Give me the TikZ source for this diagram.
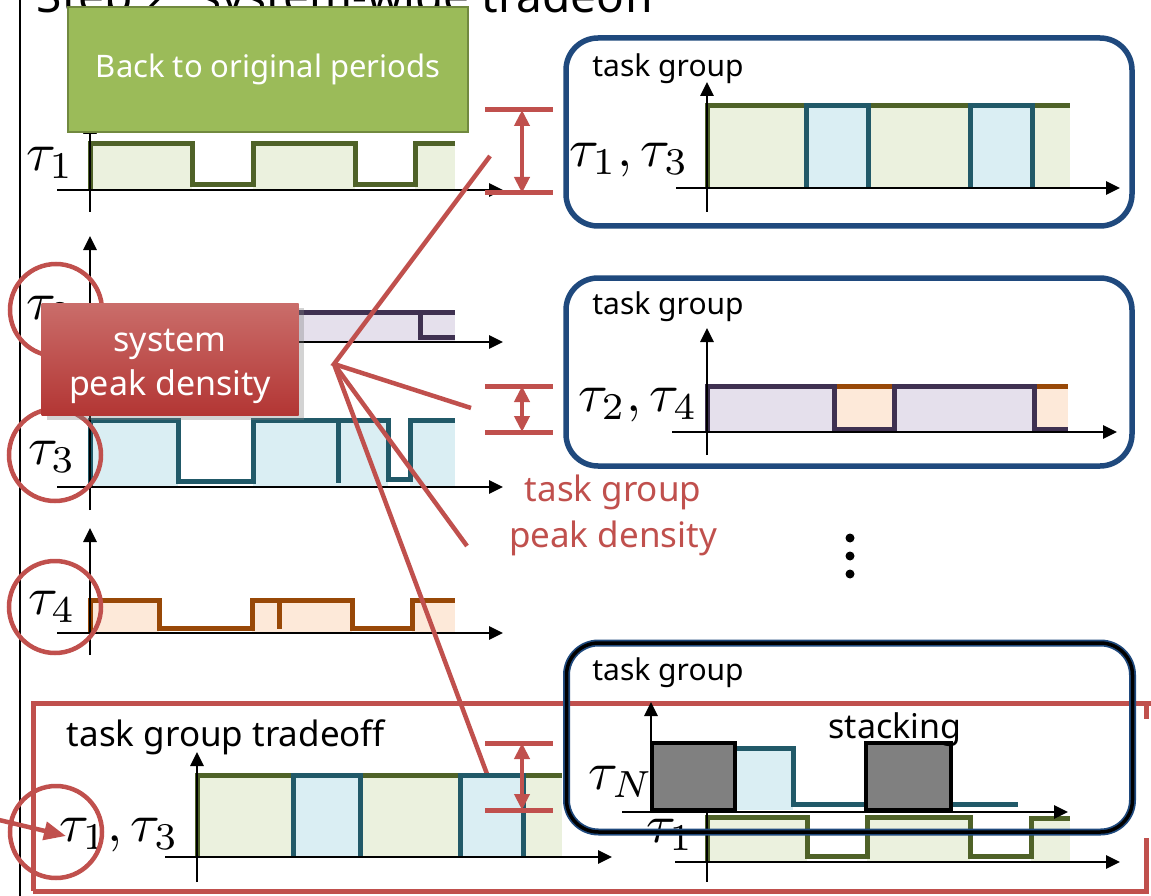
\documentclass[tikz,border=0pt]{standalone}
\usepackage{graphicx}
\usepackage{fontspec}
\setmainfont{Noto Sans}
\usetikzlibrary{arrows.meta,shadows}
\definecolor{gstroke}{HTML}{4F6228}
\definecolor{gfill}{HTML}{EBF1DE}
\definecolor{tstroke}{HTML}{215968}
\definecolor{tfill}{HTML}{DAEEF3}
\definecolor{pstroke}{HTML}{3F3151}
\definecolor{pfill}{HTML}{E5E0EC}
\definecolor{ostroke}{HTML}{984807}
\definecolor{ofill}{HTML}{FDE9D9}
\definecolor{redc}{HTML}{C0504D}
\definecolor{redtop}{HTML}{CA6D6A}
\definecolor{redbot}{HTML}{B33634}
\definecolor{boxblue}{HTML}{1F497D}
\definecolor{greenbox}{HTML}{9BBB59}
\definecolor{greenboxb}{HTML}{71893F}
\definecolor{grayblk}{HTML}{808080}
\newcommand{\mytau}[1]{\scalebox{5.4}{$#1$}}
\tikzset{
  axisline/.style={line width=2.8pt, -{Triangle[length=14pt,width=13pt]}},
  plainaxis/.style={line width=2.8pt},
  sig/.style={line width=5pt, line join=miter},
  redline/.style={draw=redc, line width=4.5pt},
  redbar/.style={draw=redc, line width=5pt},
  reddbl/.style={draw=redc, line width=4.5pt, {Triangle[length=16pt,width=15pt]}-{Triangle[length=16pt,width=15pt]}},
  circ/.style={draw=redc, line width=4.5pt, circle, minimum size=92pt, inner sep=0pt},
  tgbox/.style={draw=boxblue, line width=5.5pt, rounded corners=32pt, minimum width=566pt, minimum height=188pt, inner sep=0pt},
  tau/.style={inner sep=0pt},
  lbl/.style={font=\fontsize{30}{36}\selectfont, inner sep=0pt},
}
\begin{document}
\begin{tikzpicture}[x=1pt,y=-1pt]
\useasboundingbox (0,0) rectangle (1151,896);
% left rule and title
\draw[line width=2pt] (20,-10) -- (20,906);
\node[anchor=base east, font=\fontsize{46}{52}\selectfont, inner sep=0pt] (title) at (656,12.5) {Step 2: system-wide tradeoff};

% ---- tau1 chart
\fill[gfill] (90,144) rectangle (192,190);
\fill[gfill] (253,144) rectangle (355,190);
\fill[gfill] (415,144) rectangle (455,190);
\draw[sig, gstroke] (90,190) -- (90,144) -- (192,144) -- (192,185) -- (253,185) -- (253,144) -- (355,144) -- (355,185) -- (415,185) -- (415,144) -- (455,144);
\draw[axisline] (57,190) -- (503,190);
\draw[axisline] (90,212) -- (90,120);
\node[tau] (t1) at (50,163) {\mytau{\tau_1}};

% ---- tau2 chart
\fill[pfill] (90,312) rectangle (455,342);
\draw[sig, pstroke] (90,342) -- (90,312) -- (455,312);
\draw[sig, pstroke] (420,312) -- (420,337) -- (455,337);
\draw[axisline] (57,342) -- (503,342);
\draw[axisline] (90,365) -- (90,236);
\node[tau] (t2) at (50,312) {\mytau{\tau_2}};

% ---- tau3 chart
\fill[tfill] (90,420) rectangle (178,487);
\fill[tfill] (253,420) rectangle (388,487);
\fill[tfill] (410,420) rectangle (455,487);
\draw[sig, tstroke] (90,487) -- (90,420) -- (178,420) -- (178,481) -- (253,481) -- (253,420) -- (388,420) -- (388,479) -- (410,479) -- (410,420) -- (455,420);
\draw[sig, tstroke] (338,420) -- (338,483);
\draw[axisline] (57,487) -- (503,487);
\draw[axisline] (90,510) -- (90,395);
\node[tau] (t3) at (52,457) {\mytau{\tau_3}};

% ---- tau4 chart
\fill[ofill] (90,600) rectangle (159,633);
\fill[ofill] (252,600) rectangle (352,633);
\fill[ofill] (412,600) rectangle (455,633);
\draw[sig, ostroke] (90,633) -- (90,600) -- (159,600) -- (159,628) -- (252,628) -- (252,600) -- (352,600) -- (352,628) -- (412,628) -- (412,600) -- (455,600);
\draw[sig, ostroke] (279,600) -- (279,629);
\draw[axisline] (57,633) -- (503,633);
\draw[axisline] (90,655) -- (90,528);
\node[tau] (t4) at (52,607) {\mytau{\tau_4}};

% ---- green box
\node[draw=greenboxb, fill=greenbox, line width=2pt, minimum width=400pt, minimum height=125pt, inner sep=0pt, text=white, font=\fontsize{31}{36}\selectfont] (back) at (268,69.5) {Back to original periods};

% ---- circles
\node[circ] (c2) at (56,310) {};
\node[circ] (c3) at (55,455) {};
\node[circ] (c4) at (55,607) {};

% ---- system peak density callout
\node[minimum width=257pt, minimum height=112pt, inner sep=0pt, top color=redtop, bottom color=redbot, drop shadow={opacity=0.35, shadow xshift=5pt, shadow yshift=-5pt}] (spd) at (170,359) {};
\node[text=white, align=center, inner sep=0pt, font=\fontsize{34}{44}\selectfont] (spdt) at (170,366) {system\\peak density};

% ---- red callout lines
\coordinate (focal) at (334,364);
\coordinate (e1) at (490,156);
\coordinate (e2) at (471,408);
\coordinate (e3) at (467,546);
\coordinate (e4) at (487,774);
\draw[redline, line join=miter] (e1) -- (focal) -- (e2);
\draw[redline] (focal) -- (e3);
\draw[redline] (focal) -- (e4);

% ---- red double arrows 1 and 2
\coordinate (a1t) at (522,110); \coordinate (a1b) at (522,193);
\draw[redbar] (485,110) -- (553,110);
\draw[redbar] (485,193) -- (553,193);
\draw[reddbl] (a1t) -- (a1b);
\coordinate (a2t) at (522,386); \coordinate (a2b) at (522,432);
\draw[redbar] (485,386) -- (553,386);
\draw[redbar] (485,432) -- (553,432);
\draw[reddbl] (a2t) -- (a2b);

% ---- task group box 1
\node[tgbox] (g1) at (849,132) {};
\node[lbl] (g1l) at (668,69) {task group};
\fill[gfill] (707,106) rectangle (1070,188);
\fill[tfill] (806,106) rectangle (868,188);
\fill[tfill] (970,106) rectangle (1032,188);
\draw[sig, gstroke] (707,188) -- (707,106) -- (1070,106);
\draw[sig, tstroke] (806,188) -- (806,106) -- (868,106) -- (868,188);
\draw[sig, tstroke] (970,188) -- (970,106) -- (1032,106) -- (1032,188);
\draw[axisline] (676,188) -- (1120,188);
\draw[axisline] (707,212) -- (707,82);
\node[tau] (g1t) at (629,160) {\mytau{\tau_1,\tau_3}};

% ---- task group box 2
\node[tgbox] (g2) at (849,372) {};
\node[lbl] (g2l) at (668,307) {task group};
\fill[pfill] (707,386) rectangle (1068,432);
\fill[ofill] (834,386) rectangle (894,432);
\fill[ofill] (1034,386) rectangle (1068,432);
\draw[sig, ostroke] (834,386) -- (894,386);
\draw[sig, ostroke] (1034,386) -- (1068,386);
\draw[sig, pstroke] (707,432) -- (707,386) -- (834,386) -- (834,429) -- (894,429) -- (894,386) -- (1034,386) -- (1034,429) -- (1068,429);
\draw[axisline] (672,432) -- (1117,432);
\draw[axisline] (707,455) -- (707,328);
\node[tau] (g2t) at (638,405) {\mytau{\tau_2,\tau_4}};

% ---- red label and dots
\node[text=redc, align=center, inner sep=0pt, font=\fontsize{35}{46}\selectfont] (tgpd) at (613,515) {task group\\peak density};
\fill (850,538) circle (4.5);
\fill (850,556) circle (4.5);
\fill (850,574) circle (4.5);

% ---- lower tau1 chart (behind box 3)
\fill[gfill] (707,817) rectangle (807,862);
\fill[gfill] (867,817) rectangle (970,862);
\fill[gfill] (1031,818) rectangle (1070,862);
\draw[sig, gstroke] (707,862) -- (707,817) -- (807,817) -- (807,856) -- (867,856) -- (867,817) -- (970,817) -- (970,856) -- (1031,856) -- (1031,818) -- (1070,818);
\draw[axisline] (675,862) -- (1120,862);
\draw[plainaxis] (707,812) -- (707,882);
\node[tau] (lt1) at (670,835) {\mytau{\tau_1}};

% ---- tradeoff frame
\draw[redbar, line join=miter] (33,891) -- (33,703) -- (1151,703);
\draw[redbar] (1146,703) -- (1146,719);
\draw[redbar, line join=miter] (1146,838) -- (1146,891) -- (33,891);
\node[font=\fontsize{35}{42}\selectfont, inner sep=0pt] (tgt) at (226,737) {task group tradeoff};

% tradeoff chart
\fill[gfill] (197,775) rectangle (562,857);
\fill[tfill] (293,775) rectangle (360,857);
\fill[tfill] (460,775) rectangle (523,857);
\draw[sig, gstroke] (197,857) -- (197,775) -- (562,775);
\draw[sig, tstroke] (293,857) -- (293,775) -- (360,775) -- (360,857);
\draw[sig, tstroke] (460,857) -- (460,775) -- (523,775) -- (523,857);
\draw[axisline] (165,857) -- (612,857);
\draw[axisline] (197,882) -- (197,752);
\node[tau] (tt) at (119,835) {\mytau{\tau_1,\tau_3}};
\node[circ] (c5) at (56,832) {};
\coordinate (ain) at (-5,819);
\coordinate (aend) at (66,836);
\draw[redline, -{Triangle[length=22pt,width=18pt]}] (ain) -- (aend);

% red double arrow 3
\coordinate (a3t) at (522,743); \coordinate (a3b) at (522,810);
\draw[redbar] (485,743) -- (553,743);
\draw[redbar] (485,810) -- (553,810);
\draw[reddbl] (a3t) -- (a3b);

% ---- task group box 3 (stacking)
\fill[tfill] (735,748) rectangle (793,810);
\draw[sig, tstroke] (700,748) -- (793,748) -- (793,804) -- (1018,804);
\draw[line width=4.5pt, fill=grayblk] (652,743) rectangle (735,810);
\draw[line width=4.5pt, fill=grayblk] (866,743) rectangle (951,810);
\draw[axisline] (622,812) -- (1068,812);
\draw[axisline] (651,812) -- (651,702);
\node[tau] (tn) at (621,782) {\mytau{\tau_N}};
\node[font=\fontsize{34}{40}\selectfont, inner sep=0pt] (stk) at (895,730) {stacking};
\node[tgbox, minimum height=189pt, line width=7pt] (g3) at (849.5,737.5) {};
\node[tgbox, minimum height=189pt, draw=black, line width=3.5pt] (g3b) at (849.5,737.5) {};
\node[lbl] (g3l) at (668,673) {task group};
\end{tikzpicture}
\end{document}
